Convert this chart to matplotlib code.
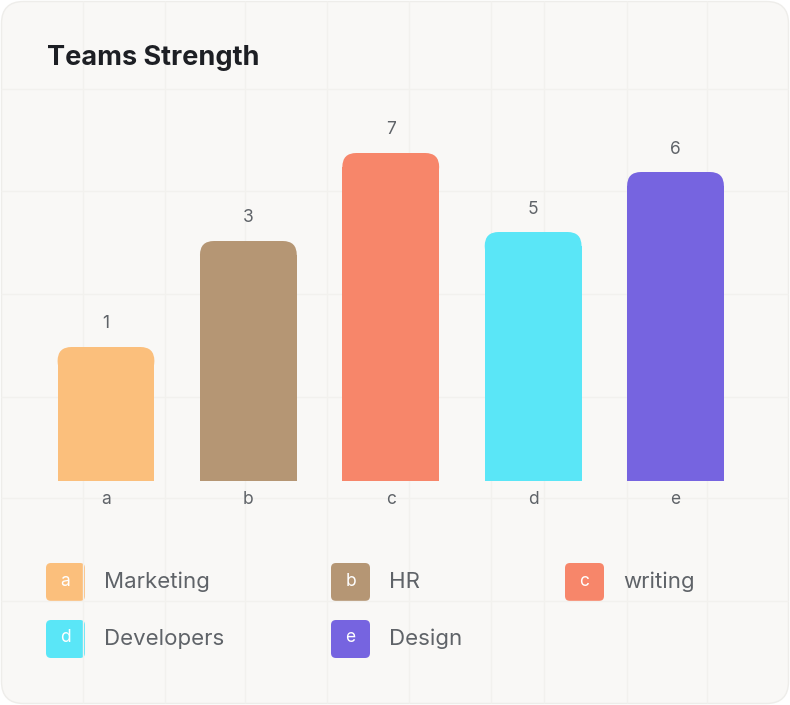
import matplotlib.pyplot as plt
from matplotlib.patches import FancyBboxPatch

# data
categories = ['a', 'b', 'c', 'd', 'e']
teams = ['Marketing', 'HR', 'writing', 'Developers', 'Design']
values = [1, 3, 7, 5, 6]
heights = [1.34, 2.40, 3.28, 2.49, 3.09]
colors = ['#FBBF7C', '#B59674', '#F7866A', '#5AE6F7', '#7664E0']

W, H = 790, 705
text_grey = '#5F6368'

fig = plt.figure(figsize=(W / 100, H / 100), dpi=100)
fig.patch.set_facecolor('white')

# background card in pixel coordinates
bg = fig.add_axes([0, 0, 1, 1])
bg.set_xlim(0, W)
bg.set_ylim(H, 0)
bg.axis('off')

card = FancyBboxPatch((1.5, 1.5), W - 3, H - 3,
                      boxstyle='round,pad=0,rounding_size=22',
                      fc='#F9F8F6', ec='#EEEDEA', lw=1)
bg.add_patch(card)

# decorative grid behind the card
for gx in [83, 165, 245, 327, 409, 491, 544, 627, 707]:
    ln, = bg.plot([gx, gx], [0, H], color='#F2F1EE', lw=1)
    ln.set_clip_path(card)
for gy in [89, 191, 294, 397, 498, 601]:
    ln, = bg.plot([0, W], [gy, gy], color='#F2F1EE', lw=1)
    ln.set_clip_path(card)

bg.text(47, 65, 'Teams Strength', fontsize=19.5, fontweight='bold',
        family=['Inter', 'DejaVu Sans'], color='#1D1F24', va='baseline')

# legend
col_x = [46, 331, 565]
row_y = [563, 620]
for k, (cat, team, col) in enumerate(zip(categories, teams, colors)):
    sx = col_x[k % 3]
    sy = row_y[k // 3]
    bg.add_patch(FancyBboxPatch((sx, sy), 39, 38,
                                boxstyle='round,pad=0,rounding_size=5',
                                fc=col, ec='none'))
    bg.text(sx + 19.5, sy + 18, cat, color='white', fontsize=12.5,
            ha='center', va='center', family=['Inter', 'DejaVu Sans'])
    bg.text(sx + 58, sy + 19, team, color=text_grey, fontsize=16,
            ha='left', va='center', family=['Inter', 'DejaVu Sans'])

# bar chart
left, right, bottom, top = 34.8, 746.7, 481, 100
ax = fig.add_axes([left / W, (H - bottom) / H, (right - left) / W, (bottom - top) / H])
ax.set_xlim(-0.5, 4.5)
ax.set_ylim(0, 3.81)
ax.patch.set_alpha(0)
for s in ax.spines.values():
    s.set_visible(False)

bw = 0.68
x = list(range(len(categories)))
bars = ax.bar(x, heights, width=bw, color=colors, edgecolor='none')

# round the top corners
radius_px = 14
rx = radius_px * 5 / (right - left)
ry = radius_px * 3.81 / (bottom - top)
for rect, h, col in zip(bars, heights, colors):
    rect.set_height(h - ry)
    ax.add_patch(FancyBboxPatch((rect.get_x(), h - 2 * ry), bw, 2 * ry,
                                boxstyle=f'round,pad=0,rounding_size={rx}',
                                mutation_aspect=ry / rx, fc=col, ec='none'))

for xi, h, v in zip(x, heights, values):
    ax.annotate(str(v), (xi, h), xytext=(0, 23), textcoords='offset pixels',
                ha='center', va='center', fontsize=12.5, color=text_grey,
                family=['Inter', 'DejaVu Sans'])

ax.set_xticks(x)
ax.set_xticklabels(categories, fontsize=12.5, color=text_grey,
                   family=['Inter', 'DejaVu Sans'])
ax.set_yticks([])
ax.tick_params(axis='x', length=0, pad=7)

fig.savefig('out.png', dpi=100, facecolor='white')
